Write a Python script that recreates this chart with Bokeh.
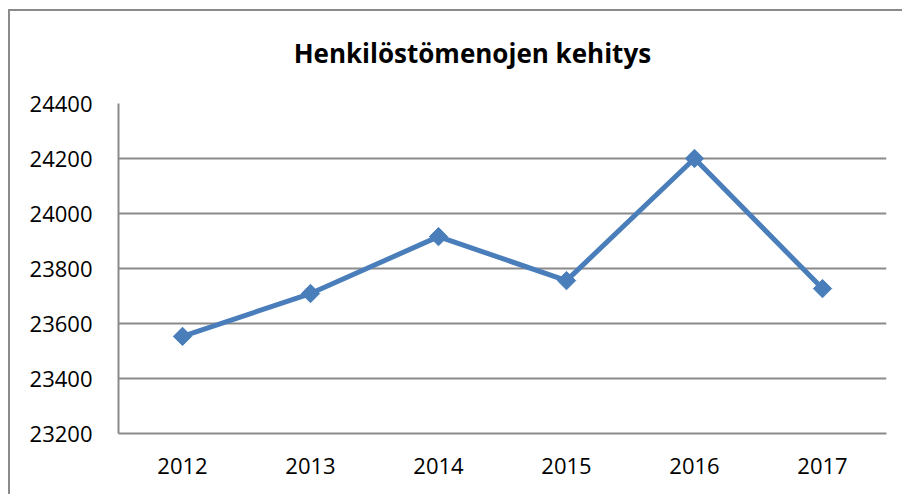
from bokeh.plotting import figure
from bokeh.layouts import column
from bokeh.models import FactorRange, Range1d, SingleIntervalTicker
from bokeh.core.properties import value
from bokeh.embed import file_html
from bokeh.resources import INLINE
import math

years = ["2012", "2013", "2014", "2015", "2016", "2017"]
values = [23553, 23709, 23916, 23756, 24200, 23727]
title_text = "Henkilöstömenojen kehitys"

FONT = "Open Sans"
LINE_COLOR = "#4a7ebb"
GRID = "#8a8a8a"
W = 892
TITLE_H = 70

# title strip
tf = figure(width=W, height=TITLE_H, x_range=Range1d(0, W), y_range=Range1d(0, TITLE_H),
            x_axis_type=None, y_axis_type=None, output_backend="svg", toolbar_location=None,
            min_border=0)
tf.outline_line_color = None
tf.text(x=[411], y=[29], text=[title_text], text_font=value(FONT), text_font_size="26px",
        text_font_style="bold", text_align="center", text_baseline="middle", text_color="black")

# main chart
p = figure(
    width=W, height=483 - TITLE_H,
    x_range=FactorRange(*years, range_padding=0),
    y_range=Range1d(23200, 24400),
    output_backend="svg", toolbar_location=None,
    min_border_left=108, min_border_right=16, min_border_top=22, min_border_bottom=61,
)

p.line(years, values, line_color=LINE_COLOR, line_width=5)
p.scatter(years, values, marker="square", angle=math.pi / 4, size=13,
          fill_color=LINE_COLOR, line_color=LINE_COLOR)

p.outline_line_color = None
p.xgrid.grid_line_color = None
p.ygrid.grid_line_color = GRID
p.ygrid.grid_line_width = 2
p.yaxis.ticker = SingleIntervalTicker(interval=200)

for ax in (p.xaxis, p.yaxis):
    ax.major_tick_line_color = None
    ax.minor_tick_line_color = None
    ax.major_label_text_font = FONT
    ax.major_label_text_font_size = "22px"
    ax.major_label_text_color = "black"
p.yaxis.axis_line_color = GRID
p.yaxis.axis_line_width = 2
p.xaxis.axis_line_color = GRID
p.xaxis.axis_line_width = 2
p.yaxis.major_label_standoff = 20
p.xaxis.major_label_standoff = 18
p.yaxis.formatter.use_scientific = False

layout = column(tf, p, spacing=0)
layout.margin = (9, 0, 0, 8)
layout.styles = {"border-left": "2px solid #8a8a8a", "border-top": "2px solid #8a8a8a"}

open("out.html", "w").write(file_html(layout, INLINE))
